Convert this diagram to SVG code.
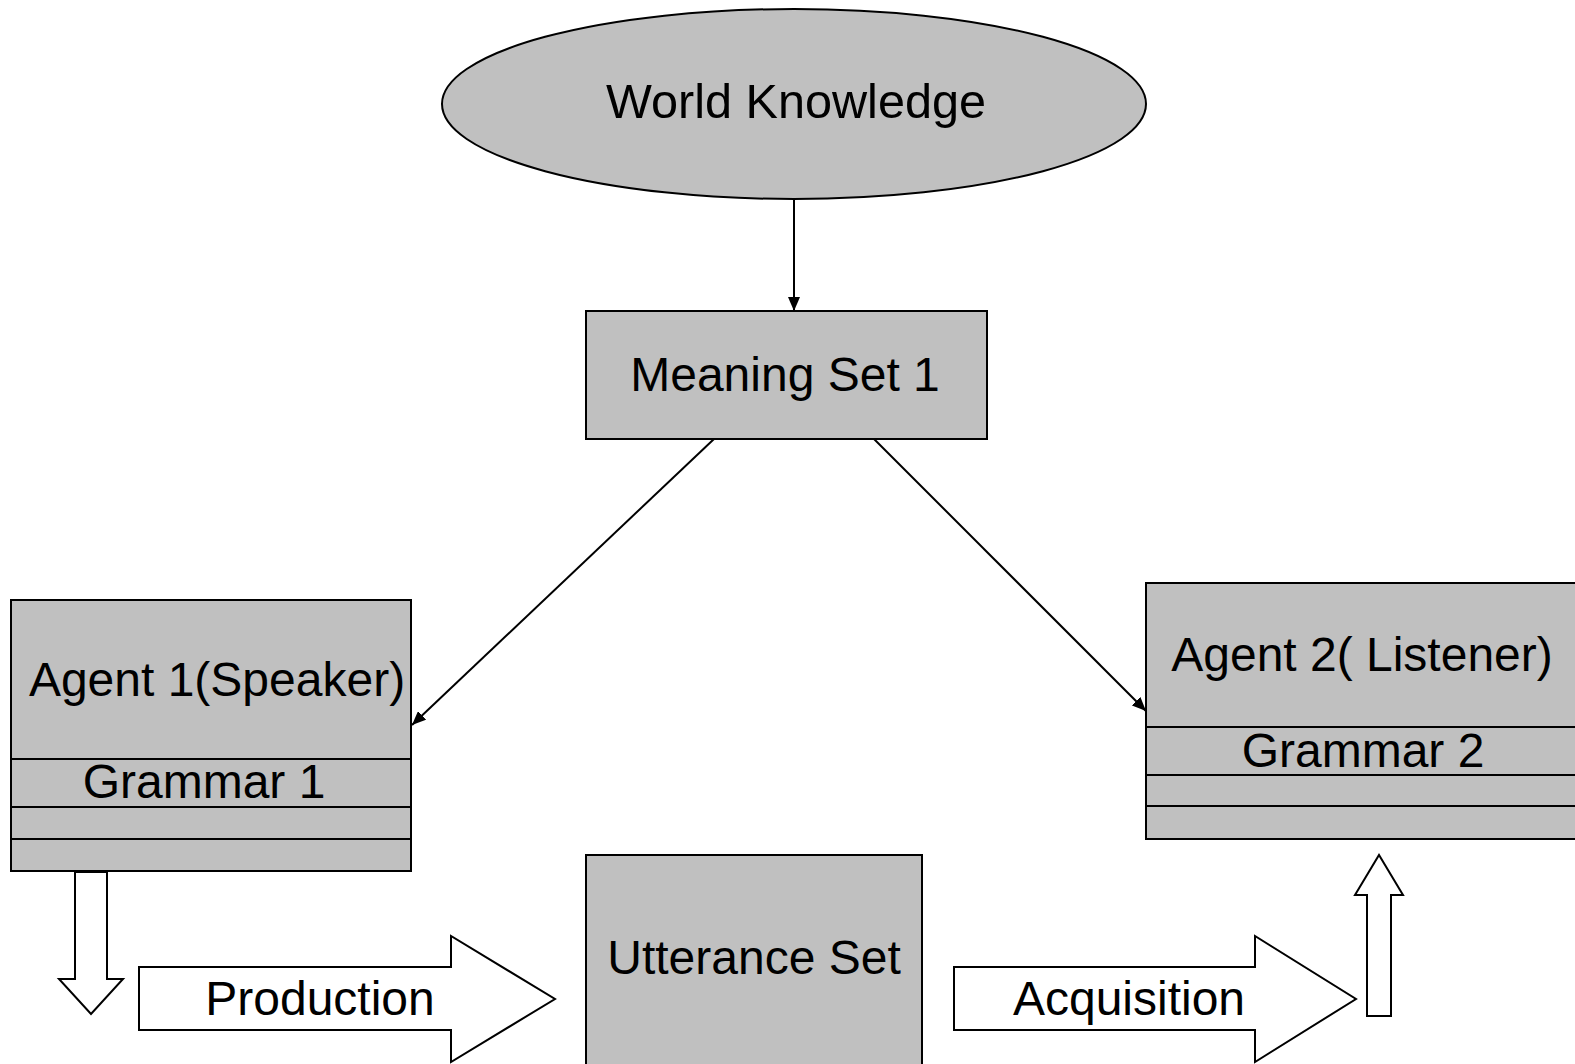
<svg xmlns="http://www.w3.org/2000/svg" width="1575" height="1064" viewBox="0 0 1575 1064">
  <defs>
    <style>
      .shape { fill: #c0c0c0; stroke: #000; stroke-width: 2; }
      .div { stroke: #000; stroke-width: 2; }
      .hollow { fill: #fff; stroke: #000; stroke-width: 2; stroke-linejoin: miter; }
      .edge { fill: none; stroke: #000; stroke-width: 2; }
      .lbl { font-family: "Liberation Sans", Arial, sans-serif; font-size: 48px; fill: #000; text-anchor: middle; }
    </style>
    <marker id="arrow" viewBox="0 0 14 12" refX="14" refY="6" markerWidth="14" markerHeight="12" markerUnits="userSpaceOnUse" orient="auto">
      <path d="M0,0 L14,6 L0,12 Z" fill="#000"/>
    </marker>
  </defs>
  <rect width="1575" height="1064" fill="#fff"/>

  <g id="connectors">
    <line class="edge" x1="794" y1="199" x2="794" y2="311" marker-end="url(#arrow)"/>
    <line class="edge" x1="714" y1="439" x2="412" y2="725" marker-end="url(#arrow)"/>
    <line class="edge" x1="874" y1="439" x2="1146" y2="711" marker-end="url(#arrow)"/>
  </g>

  <g id="world-knowledge">
    <ellipse class="shape" cx="794" cy="104" rx="352" ry="95"/>
    <text class="lbl" x="796" y="118" textLength="380" lengthAdjust="spacingAndGlyphs">World Knowledge</text>
  </g>

  <g id="meaning-set-1">
    <rect class="shape" x="586" y="311" width="401" height="128"/>
    <text class="lbl" x="785" y="391">Meaning Set 1</text>
  </g>

  <g id="agent-1">
    <rect class="shape" x="11" y="600" width="400" height="271"/>
    <line class="div" x1="11" y1="759" x2="411" y2="759"/>
    <line class="div" x1="11" y1="807" x2="411" y2="807"/>
    <line class="div" x1="11" y1="839" x2="411" y2="839"/>
    <text class="lbl" x="217" y="696">Agent 1(Speaker)</text>
    <text class="lbl" x="204" y="798">Grammar 1</text>
  </g>

  <g id="agent-2">
    <rect class="shape" x="1146" y="583" width="440" height="256"/>
    <line class="div" x1="1146" y1="727" x2="1586" y2="727"/>
    <line class="div" x1="1146" y1="775" x2="1586" y2="775"/>
    <line class="div" x1="1146" y1="806" x2="1586" y2="806"/>
    <text class="lbl" x="1362" y="671">Agent 2( Listener)</text>
    <text class="lbl" x="1363" y="767">Grammar 2</text>
  </g>

  <g id="utterance-set">
    <rect class="shape" x="586" y="855" width="336" height="210"/>
    <text class="lbl" x="754" y="974">Utterance Set</text>
  </g>

  <g id="speaker-output">
    <path class="hollow" d="M75,872 L107,872 L107,979 L123,979 L91,1014 L59,979 L75,979 Z"/>
  </g>

  <g id="production">
    <path class="hollow" d="M139,967 L451,967 L451,936 L555,999 L451,1062 L451,1030 L139,1030 Z"/>
    <text class="lbl" x="320" y="1015">Production</text>
  </g>

  <g id="acquisition">
    <path class="hollow" d="M954,967 L1255,967 L1255,936 L1356,999 L1255,1062 L1255,1030 L954,1030 Z"/>
    <text class="lbl" x="1129" y="1015">Acquisition</text>
  </g>

  <g id="listener-input">
    <path class="hollow" d="M1367,1016 L1391,1016 L1391,895 L1403,895 L1379,855 L1355,895 L1367,895 Z"/>
  </g>
</svg>
